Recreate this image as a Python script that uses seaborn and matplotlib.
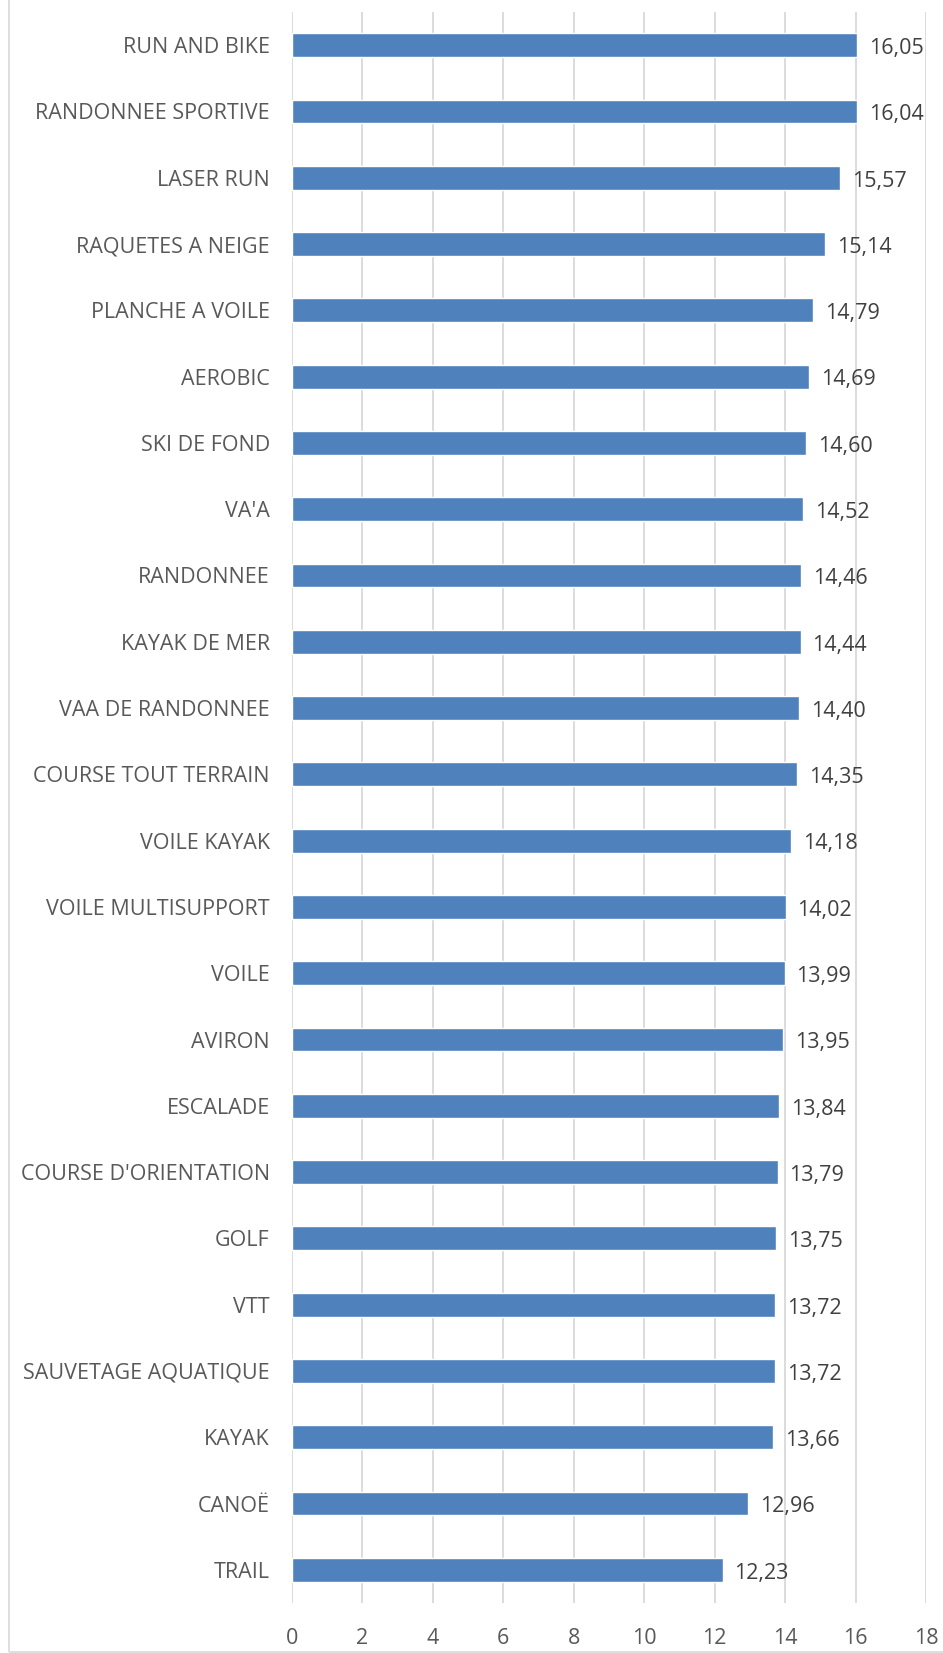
import matplotlib.pyplot as plt
import seaborn as sns
import pandas as pd
from matplotlib.patches import Rectangle

# Data, top to bottom
sports = ["RUN AND BIKE", "RANDONNEE SPORTIVE", "LASER RUN", "RAQUETES A NEIGE",
          "PLANCHE A VOILE", "AEROBIC", "SKI DE FOND", "VA'A", "RANDONNEE",
          "KAYAK DE MER", "VAA DE RANDONNEE", "COURSE TOUT TERRAIN", "VOILE KAYAK",
          "VOILE MULTISUPPORT", "VOILE", "AVIRON", "ESCALADE", "COURSE D'ORIENTATION",
          "GOLF", "VTT", "SAUVETAGE AQUATIQUE", "KAYAK", "CANOË", "TRAIL"]
scores = [16.05, 16.04, 15.57, 15.14, 14.79, 14.69, 14.60, 14.52, 14.46,
          14.44, 14.40, 14.35, 14.18, 14.02, 13.99, 13.95, 13.84, 13.79,
          13.75, 13.72, 13.72, 13.66, 12.96, 12.23]
x_ticks = [0, 2, 4, 6, 8, 10, 12, 14, 16, 18]

df = pd.DataFrame({"sport": sports, "score": scores})

sns.set_style("white")
plt.rcParams["font.family"] = ["Open Sans", "DejaVu Sans"]

fig = plt.figure(figsize=(9.43, 16.53), dpi=100)
ax = fig.add_axes([292 / 943, 50 / 1653, 634 / 943, 1591 / 1653])

sns.barplot(data=df, x="score", y="sport", orient="h", color="#4F81BD",
            saturation=1, width=0.36, ax=ax)

ax.set_xlim(0, 18)
ax.set_ylim(23.5, -0.5)
ax.set_xticks(x_ticks)
ax.set_xticklabels([str(t) for t in x_ticks])
ax.grid(axis="x", color="#D9D9D9", linewidth=1.3)
ax.set_axisbelow(True)
for s in ax.spines.values():
    s.set_visible(False)
ax.tick_params(axis="both", length=0, labelsize=15.5, colors="#595959")
ax.tick_params(axis="y", pad=16)
ax.tick_params(axis="x", pad=18)
ax.set_xlabel("")
ax.set_ylabel("")

for i, v in enumerate(scores):
    ax.text(v + 0.33, i + 0.05, f"{v:.2f}".replace(".", ","), va="center",
            ha="left", fontsize=15.5, color="#404040")

fig.patches.append(Rectangle((9 / 943, 1 / 1653), 1.2, 1.2, transform=fig.transFigure,
                             fill=False, edgecolor="#D9D9D9", linewidth=1.2))

fig.savefig("out.png", dpi=100)
